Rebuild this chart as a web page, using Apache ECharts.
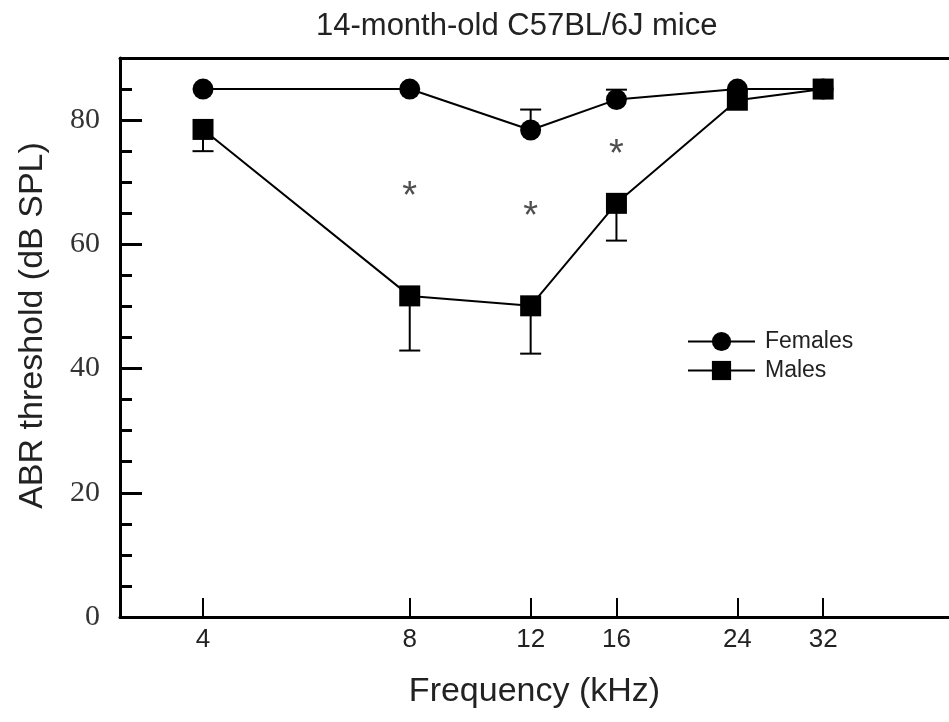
<!DOCTYPE html>
<html>
<head>
<meta charset="utf-8">
<script src="https://cdn.jsdelivr.net/npm/echarts@6/dist/echarts.min.js"></script>
<style>
  html, body { margin: 0; padding: 0; background: #fff; }
  #chart { width: 949px; height: 722px; }
</style>
</head>
<body>
<div id="chart"></div>
<script>
// frequencies (kHz)
const freqs = [4, 8, 12, 16, 24, 32];
// mean ABR thresholds (dB SPL)
const females = [85, 85, 78.4, 83.3, 85, 85];
const males = [78.5, 51.7, 50.1, 66.6, 83.2, 85];
// error bar ends (females go up, males go down)
const femalesErr = [null, null, 81.7, 84.9, null, null];
const malesErr = [75.0, 42.9, 42.4, 60.6, null, null];
// significance marks
const starFreqs = [8, 12, 16];
const starValues = [68.9, 65.6, 75.6];
// tick labels
const xTicks = [4, 8, 12, 16, 24, 32];
const yTicks = [0, 20, 40, 60, 80];
const yMinorTicks = [5, 10, 15, 25, 30, 35, 45, 50, 55, 65, 70, 75, 85];

const myChart = echarts.init(document.getElementById('chart'));

const pairs = (ys) => freqs.map((f, i) => [f, ys[i]]);
const errData = (means, ends) => freqs
    .map((f, i) => [f, means[i], ends[i]])
    .filter(d => d[2] != null);

function renderErr(params, api) {
    const p0 = api.coord([api.value(0), api.value(1)]);
    const p1 = api.coord([api.value(0), api.value(2)]);
    const half = 10.5;
    const style = {stroke: '#000', lineWidth: 2};
    return {
        type: 'group',
        children: [
            {type: 'line', shape: {x1: p0[0], y1: p0[1], x2: p1[0], y2: p1[1]}, style: style},
            {type: 'line', shape: {x1: p1[0] - half, y1: p1[1], x2: p1[0] + half, y2: p1[1]}, style: style}
        ]
    };
}

const xMin = 3.028, xMax = 48.8;

const option = {
    backgroundColor: '#fff',
    animation: false,
    title: {
        text: '14-month-old C57BL/6J mice',
        left: 311,
        top: 6,
        textStyle: {
            fontFamily: 'Liberation Sans',
            fontWeight: 'normal',
            fontSize: 31,
            color: '#222'
        }
    },
    legend: {
        orient: 'vertical',
        left: 682,
        top: 325,
        itemWidth: 67,
        itemHeight: 24,
        itemGap: 6,
        data: ['Females', 'Males'],
        textStyle: {
            fontFamily: 'Liberation Sans',
            fontSize: 23,
            color: '#222',
            padding: [0, 0, 0, 5]
        }
    },
    grid: {
        left: 120,
        right: 0,
        top: 58,
        bottom: 105
    },
    xAxis: [
        {
            type: 'log',
            logBase: 2,
            min: xMin,
            max: xMax,
            name: 'Frequency (kHz)',
            nameLocation: 'middle',
            nameGap: 58,
            nameTextStyle: {
                fontFamily: 'Liberation Sans',
                fontSize: 34,
                color: '#222'
            },
            axisLine: {onZero: false, lineStyle: {color: '#000', width: 3}},
            axisTick: {
                inside: true,
                length: 19,
                customValues: xTicks,
                lineStyle: {color: '#000', width: 2}
            },
            axisLabel: {
                customValues: xTicks,
                margin: 10,
                fontFamily: 'Liberation Sans',
                fontSize: 26,
                color: '#222'
            },
            splitLine: {show: false}
        },
        {
            // top frame line
            type: 'log',
            logBase: 2,
            min: xMin,
            max: xMax,
            position: 'top',
            axisLine: {onZero: false, lineStyle: {color: '#000', width: 3}},
            axisTick: {show: false},
            axisLabel: {show: false},
            splitLine: {show: false}
        }
    ],
    yAxis: [
        {
            type: 'value',
            min: 0,
            max: 90,
            position: 'left',
            name: 'ABR threshold (dB SPL)',
            nameLocation: 'middle',
            nameGap: 70,
            nameTextStyle: {
                fontFamily: 'Liberation Sans',
                fontSize: 34,
                color: '#222',
                padding: [0, 0, 0, 24]
            },
            axisLine: {onZero: false, lineStyle: {color: '#000', width: 3}},
            axisTick: {
                inside: true,
                length: 22,
                customValues: yTicks,
                lineStyle: {color: '#000', width: 3}
            },
            axisLabel: {
                customValues: yTicks,
                margin: 20,
                fontFamily: 'Liberation Serif',
                fontSize: 30,
                color: '#333'
            },
            splitLine: {show: false}
        },
        {
            // minor ticks
            type: 'value',
            min: 0,
            max: 90,
            position: 'left',
            axisLine: {show: false, onZero: false},
            axisTick: {
                inside: true,
                length: 12,
                customValues: yMinorTicks,
                lineStyle: {color: '#000', width: 3}
            },
            axisLabel: {show: false},
            splitLine: {show: false}
        }
    ],
    series: [
        {
            type: 'custom',
            name: 'femalesErr',
            renderItem: renderErr,
            data: errData(females, femalesErr),
            z: 1,
            silent: true
        },
        {
            type: 'custom',
            name: 'malesErr',
            renderItem: renderErr,
            data: errData(males, malesErr),
            z: 1,
            silent: true
        },
        {
            name: 'Females',
            type: 'line',
            data: pairs(females),
            symbol: 'circle',
            symbolSize: 21,
            showAllSymbol: true,
            itemStyle: {color: '#000'},
            lineStyle: {color: '#000', width: 2},
            z: 3
        },
        {
            name: 'Males',
            type: 'line',
            data: pairs(males),
            symbol: 'rect',
            symbolSize: 21,
            showAllSymbol: true,
            itemStyle: {color: '#000'},
            lineStyle: {color: '#000', width: 2},
            z: 4
        },
        {
            type: 'scatter',
            name: 'stars',
            data: starFreqs.map((f, i) => [f, starValues[i]]),
            symbolSize: 0,
            silent: true,
            label: {
                show: true,
                position: 'inside',
                formatter: '*',
                offset: [0, 8],
                fontFamily: 'Liberation Sans',
                fontSize: 38,
                color: '#222'
            }
        }
    ]
};

option && myChart.setOption(option);
</script>
</body>
</html>
